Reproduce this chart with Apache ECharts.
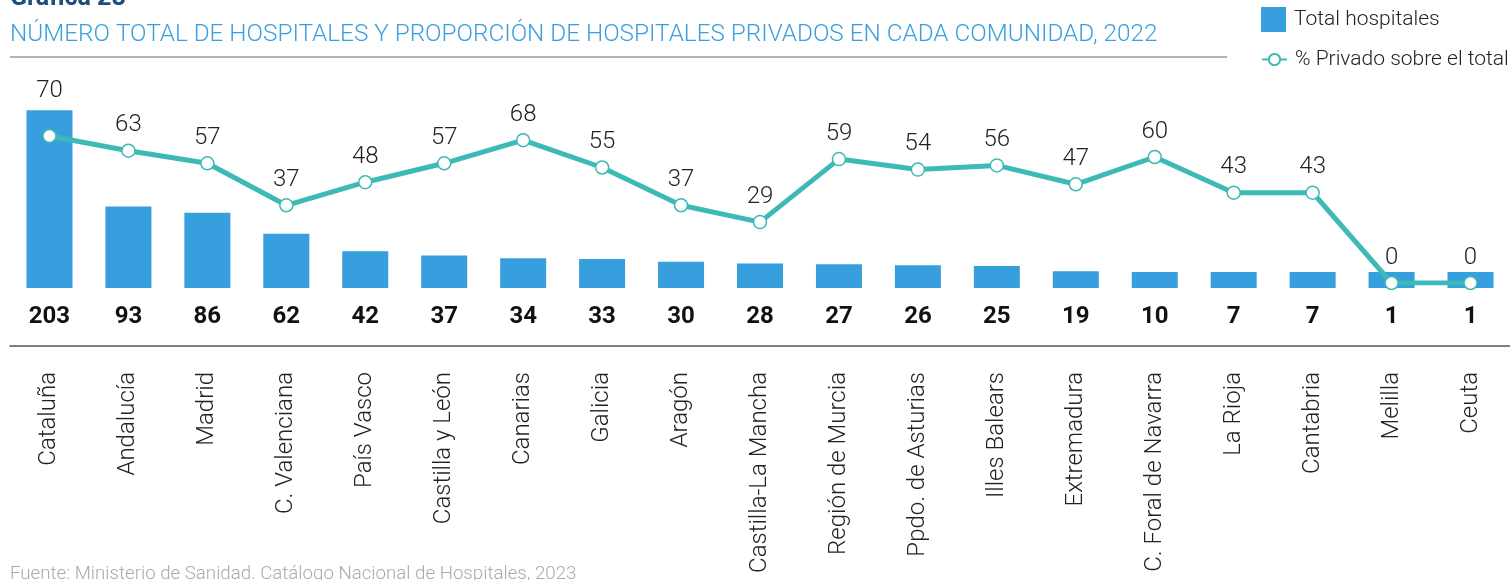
<!DOCTYPE html>
<html>
<head>
<meta charset="utf-8">
<script src="https://cdn.jsdelivr.net/npm/echarts@6/dist/echarts.min.js"></script>
<style>
html,body{margin:0;padding:0;background:#fff;}
#chart{width:1510px;height:580px;}
</style>
</head>
<body>
<div id="chart"></div>
<script>
const categories = ["Cataluña","Andalucía","Madrid","C. Valenciana","País Vasco","Castilla y León","Canarias","Galicia","Aragón","Castilla-La Mancha","Región de Murcia","Ppdo. de Asturias","Illes Balears","Extremadura","C. Foral de Navarra","La Rioja","Cantabria","Melilla","Ceuta"];
const totalHospitales = [203,93,86,62,42,37,34,33,30,28,27,26,25,19,10,7,7,1,1];
const pctPrivado = [70,63,57,37,48,57,68,55,37,29,59,54,56,47,60,43,43,0,0];

const titleText = "Gráfica 28";
const subtitleText = "NÚMERO TOTAL DE HOSPITALES Y PROPORCIÓN DE HOSPITALES PRIVADOS EN CADA COMUNIDAD, 2022";
const sourceText = "Fuente: Ministerio de Sanidad. Catálogo Nacional de Hospitales, 2023";
const seriesNames = ["Total hospitales", "% Privado sobre el total"];

const FONT = "Roboto";
const BLUE = "#379fde";
const TEAL = "#3dbab5";

const chart = echarts.init(document.getElementById('chart'), null, {renderer:'canvas'});

const lineData = pctPrivado.map((v, i) => {
  if (i === 0) return {value: v, label: {offset: [0, -20]}};
  return v;
});

const legendText = {fontSize: 21, color: '#222', fontFamily: FONT, fontWeight: 300, padding: [0,0,0,3]};

chart.setOption({
  animation: false,
  textStyle: {fontFamily: FONT},
  graphic: [
    {type:'text', left: 10, top: -14, style:{text: titleText, fontSize: 25, fontWeight: 'bold', fill: '#1b4d7e', fontFamily: FONT}},
    {type:'text', left: 10, top: 23, style:{text: subtitleText, fontSize: 24.3, fontWeight: 300, fill: '#3aa0dd', fontFamily: FONT}},
    {type:'line', shape:{x1: 10, y1: 57, x2: 1227, y2: 57}, style:{stroke: '#999', lineWidth: 1.5}},
    {type:'text', left: 10, top: 565, style:{text: sourceText, fontSize: 18.7, fontWeight: 300, fill: '#aaa', fontFamily: FONT}}
  ],
  legend: [
    {
      data: [{name: seriesNames[0], icon: 'rect'}],
      left: 1256, top: 2,
      itemWidth: 25, itemHeight: 25,
      textStyle: legendText
    },
    {
      data: [seriesNames[1]],
      left: 1256, top: 44,
      itemWidth: 25, itemHeight: 14,
      textStyle: legendText
    }
  ],
  grid: [
    {left: 10, right: 0, top: 69, bottom: 292},
    {left: 10, right: 0, top: 73, bottom: 297}
  ],
  xAxis: [
    {
      type: 'category', gridIndex: 0, data: categories, offset: 58,
      axisLine: {show: true, onZero: false, lineStyle: {color: '#555', width: 1.5}},
      axisTick: {show: false},
      axisLabel: {rotate: 90, interval: 0, margin: 26, fontSize: 24, color: '#222', fontFamily: FONT, fontWeight: 300}
    },
    {type: 'category', gridIndex: 1, data: categories, show: false}
  ],
  yAxis: [
    {type: 'value', gridIndex: 0, min: 0, max: 250, show: false},
    {type: 'value', gridIndex: 1, min: 0, max: 100, show: false}
  ],
  series: [
    {
      name: seriesNames[0], type: 'bar', xAxisIndex: 0, yAxisIndex: 0,
      data: totalHospitales, barWidth: 46, barMinHeight: 16,
      itemStyle: {color: BLUE},
      label: {show: true, position: 'bottom', distance: 17, fontSize: 24, fontWeight: 'bold', color: '#111', fontFamily: FONT}
    },
    {
      name: seriesNames[1], type: 'line', xAxisIndex: 1, yAxisIndex: 1,
      data: lineData, symbol: 'circle', symbolSize: 13, z: 5,
      lineStyle: {color: TEAL, width: 5},
      itemStyle: {color: '#fff', borderColor: TEAL, borderWidth: 1.5},
      label: {show: true, position: 'top', distance: 6, fontSize: 24, color: '#222', fontFamily: FONT, fontWeight: 300}
    }
  ]
});
</script>
</body>
</html>
